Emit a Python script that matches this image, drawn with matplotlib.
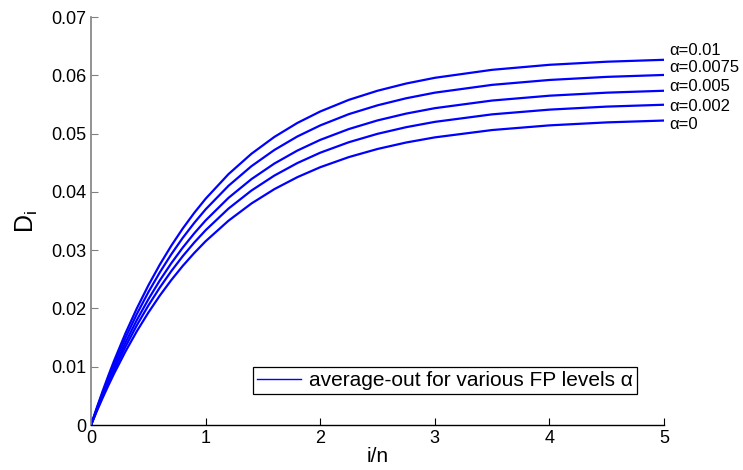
import matplotlib
matplotlib.use("Agg")
import matplotlib.pyplot as plt

plt.rcParams['font.family'] = ['Liberation Sans', 'DejaVu Sans']
plt.rcParams['mathtext.fontset'] = 'custom'
plt.rcParams['mathtext.rm'] = 'Liberation Sans'
plt.rcParams['mathtext.it'] = 'Liberation Sans'

# i/n positions where the curves were read
x = [0, 0.05, 0.1, 0.15, 0.2, 0.3, 0.4, 0.5, 0.6, 0.7, 0.8, 0.9, 1.0,
     1.2, 1.4, 1.6, 1.8, 2.0, 2.25, 2.5, 2.75, 3.0, 3.5, 4.0, 4.5, 5.0]

# D_i for each FP level alpha
d_001 = [0, 0.00294, 0.00574, 0.00841, 0.01097, 0.01571, 0.02002, 0.02394, 0.02751,
         0.03075, 0.03370, 0.03638, 0.03882, 0.04305, 0.04654, 0.04943, 0.05182,
         0.05379, 0.05579, 0.05735, 0.05859, 0.05957, 0.06094, 0.06180, 0.06233, 0.06266]
d_00075 = [0, 0.00279, 0.00545, 0.00799, 0.01042, 0.01493, 0.01904, 0.02278, 0.02618,
           0.02928, 0.03210, 0.03466, 0.03700, 0.04105, 0.04441, 0.04719, 0.04950,
           0.05140, 0.05334, 0.05485, 0.05606, 0.05702, 0.05836, 0.05920, 0.05973, 0.06006]
d_0005 = [0, 0.00264, 0.00515, 0.00755, 0.00985, 0.01412, 0.01802, 0.02156, 0.02480,
          0.02775, 0.03043, 0.03287, 0.03510, 0.03898, 0.04219, 0.04486, 0.04708,
          0.04892, 0.05078, 0.05226, 0.05343, 0.05436, 0.05567, 0.05650, 0.05702, 0.05735]
d_0002 = [0, 0.00250, 0.00489, 0.00717, 0.00935, 0.01341, 0.01712, 0.02049, 0.02358,
          0.02639, 0.02896, 0.03129, 0.03342, 0.03714, 0.04023, 0.04280, 0.04494,
          0.04672, 0.04852, 0.04996, 0.05110, 0.05201, 0.05330, 0.05411, 0.05463, 0.05495]
d_0 = [0, 0.00235, 0.00459, 0.00673, 0.00878, 0.01260, 0.01610, 0.01928, 0.02220,
       0.02486, 0.02729, 0.02950, 0.03153, 0.03506, 0.03801, 0.04047, 0.04252,
       0.04423, 0.04597, 0.04736, 0.04847, 0.04935, 0.05061, 0.05141, 0.05192, 0.05224]

curves = [d_001, d_00075, d_0005, d_0002, d_0]
labels = ["α=0.01", "α=0.0075", "α=0.005", "α=0.002", "α=0"]
label_y = [0.0643, 0.0614, 0.0580, 0.0547, 0.0516]

fig = plt.figure(figsize=(7.43, 4.70), dpi=100)
ax = fig.add_axes([0.1225, 0.0957, 0.7712, 0.8681])

for d in curves:
    ax.plot(x, d, color='#0000ff', lw=1.6)

for lab, ly in zip(labels, label_y):
    ax.text(5.05, ly, lab, fontsize=12, va='center', ha='left', clip_on=False)

# legend handle is a thin line
h, = ax.plot([], [], color='#0000ff', lw=1)
leg = ax.legend([h], ["average-out for various FP levels α"], loc='lower right',
                bbox_to_anchor=(0.953, 0.076), borderaxespad=0, fontsize=15,
                fancybox=False, framealpha=1, handlelength=2.1, handletextpad=0.4,
                borderpad=0.2)
leg.get_frame().set_edgecolor('black')
leg.get_frame().set_linewidth(0.9)

ax.set_xlim(0, 5)
ax.set_ylim(0, 0.07)
ax.set_xticks([0, 1, 2, 3, 4, 5])
ax.set_yticks([0, 0.01, 0.02, 0.03, 0.04, 0.05, 0.06, 0.07])
ax.set_yticklabels(["0", "0.01", "0.02", "0.03", "0.04", "0.05", "0.06", "0.07"])
ax.tick_params(direction='in', length=5, labelsize=13, width=0.8)
ax.tick_params(axis='y', colors='#808080', labelcolor='black')

ax.spines['top'].set_visible(False)
ax.spines['right'].set_visible(False)
ax.spines['left'].set_color('#808080')
ax.spines['left'].set_linewidth(1.2)
ax.spines['bottom'].set_color('black')
ax.spines['bottom'].set_linewidth(1.0)

ax.set_xlabel("i/n", fontsize=15, labelpad=0)
ax.set_ylabel(r"D$_\mathrm{i}$", fontsize=18, labelpad=8)

fig.savefig("out.png", dpi=100)
